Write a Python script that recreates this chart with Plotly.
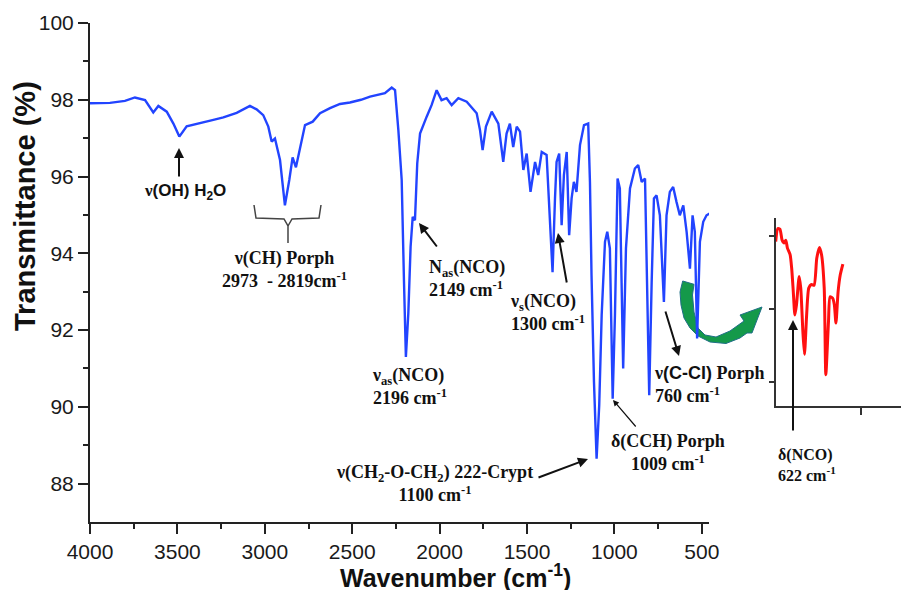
import plotly.graph_objects as go

# ---------------- data ----------------
wavenumber = [4000, 3886, 3800, 3743, 3685, 3638, 3609, 3561, 3523, 3489, 3447, 3390, 3300, 3237,
              3161, 3085, 3047, 3009, 2980, 2961, 2942, 2913, 2885, 2860, 2841, 2822, 2799, 2770,
              2726, 2684, 2627, 2570, 2513, 2450, 2398, 2313, 2274, 2255, 2236, 2217, 2204, 2193,
              2179, 2166, 2154, 2141, 2128, 2112, 2074, 2046, 2017, 1989, 1960, 1931, 1893, 1845,
              1788, 1769, 1754, 1735, 1702, 1664, 1636, 1617, 1598, 1579, 1559, 1540, 1521, 1502,
              1480, 1454, 1436, 1416, 1388, 1369, 1354, 1340, 1331, 1316, 1302, 1289, 1273, 1259,
              1245, 1232, 1217, 1197, 1174, 1150, 1140, 1131, 1117, 1102, 1087, 1073, 1054, 1041,
              1026, 1010, 997, 982, 969, 950, 934, 911, 883, 864, 844, 825, 816, 801, 787, 774,
              759, 740, 717, 702, 683, 664, 645, 626, 606, 587, 568, 553, 540, 527, 511, 492,
              473, 454]
transmittance = [97.91, 97.92, 97.97, 98.06, 97.99, 97.67, 97.84, 97.69, 97.38, 97.04, 97.31, 97.38,
                 97.47, 97.54, 97.66, 97.84, 97.75, 97.60, 97.30, 96.91, 96.99, 96.43, 95.25, 95.91,
                 96.50, 96.24, 96.77, 97.34, 97.43, 97.65, 97.78, 97.89, 97.93, 98.00, 98.08, 98.17,
                 98.32, 98.25, 97.21, 95.91, 93.30, 91.30, 92.44, 94.17, 94.95, 94.86, 96.34, 97.12,
                 97.56, 97.86, 98.25, 97.99, 98.04, 97.86, 98.04, 97.95, 97.65, 97.21, 96.69, 97.30,
                 97.69, 97.38, 96.38, 97.12, 97.38, 96.77, 97.30, 97.17, 96.17, 96.60, 95.60, 96.38,
                 96.04, 96.64, 96.56, 94.99, 93.51, 95.43, 96.38, 96.60, 94.73, 96.04, 96.64, 94.47,
                 95.43, 95.86, 95.60, 96.82, 97.34, 97.38, 95.86, 93.43, 90.65, 88.65, 90.04, 92.39,
                 94.30, 94.56, 94.13, 90.21, 92.39, 95.95, 95.69, 91.00, 94.13, 95.69, 96.21, 96.30,
                 95.86, 95.95, 94.13, 90.30, 93.25, 95.43, 95.51, 94.99, 92.73, 94.99, 95.60, 95.73,
                 95.34, 94.99, 95.25, 94.56, 93.60, 94.99, 94.56, 91.78, 94.30, 94.82, 94.99, 95.04]

inset_wavenumber = [660, 656, 652, 648, 644, 641, 638, 633, 630, 627, 624, 621, 616, 613, 609, 606,
                    602, 598, 593, 588, 583, 578, 574, 569, 566, 561, 558, 553, 550, 547, 543, 539, 534]
inset_transmittance = [94.93, 95.11, 95.10, 94.95, 94.91, 94.95, 94.84, 94.75, 94.56, 94.24, 93.92,
                       94.06, 94.45, 94.29, 93.69, 93.38, 93.92, 94.29, 94.34, 94.33, 94.70, 94.85,
                       94.75, 94.29, 93.10, 93.83, 94.17, 94.15, 94.06, 93.81, 94.24, 94.47, 94.62]

x_tick_values = [4000, 3500, 3000, 2500, 2000, 1500, 1000, 500]
y_tick_values = [88, 90, 92, 94, 96, 98, 100]
inset_x_ticks = [500]
inset_y_ticks = [93, 94, 95]

# ---------------- layout helpers (pixel -> paper) ----------------
W, H = 901, 590
ML, MR, MT, MB = 90, 0, 23, 68


def px(x):
    return (x - ML) / (W - ML - MR)


def py(y):
    return (H - MB - y) / (H - MT - MB)


SERIF = "Liberation Serif"
SANS = "Liberation Sans"
TXT = "#111111"

fig = go.Figure()
fig.add_trace(go.Scatter(x=wavenumber, y=transmittance, mode="lines",
                         line=dict(color="#2244ff", width=2.4), xaxis="x", yaxis="y",
                         showlegend=False, hoverinfo="skip"))
fig.add_trace(go.Scatter(x=inset_wavenumber, y=inset_transmittance, mode="lines",
                         line=dict(color="#ff1010", width=3, shape="spline", smoothing=0.6),
                         xaxis="x2", yaxis="y2", showlegend=False, hoverinfo="skip"))

annotations = []


def label(x, y, text, xanchor="center", size=18, family=SERIF):
    annotations.append(dict(xref="paper", yref="paper", x=px(x), y=py(y), text=text,
                            showarrow=False, xanchor=xanchor, yanchor="middle",
                            align="left" if xanchor == "left" else "center",
                            font=dict(family=family, size=size, color=TXT)))


def arrow(tip, tail, width=2.0, head=2, size=1.0):
    annotations.append(dict(xref="paper", yref="paper", x=px(tip[0]), y=py(tip[1]),
                            ax=tail[0] - tip[0], ay=tail[1] - tip[1], text="",
                            showarrow=True, arrowhead=head, arrowsize=size,
                            arrowwidth=width, arrowcolor="#111111"))


# labels
label(185, 192, "<b>ν</b><b><span style='font-family:Liberation Sans'>(OH) H<sub>2</sub>O</span></b>",
      size=17)
label(284, 269, "<b>ν(CH) Porph<br>2973  - 2819cm<sup>-1</sup></b>")
label(427, 278, "<b>N<sub>as</sub>(NCO)<br>2149 cm<sup>-1</sup></b>", xanchor="left")
label(370, 386, "<b>ν<sub>as</sub>(NCO)<br>2196 cm<sup>-1</sup></b>", xanchor="left")
label(508, 312, "<b>ν<sub>s</sub>(NCO)<br>1300 cm<sup>-1</sup></b>", xanchor="left")
label(434, 483, "<b>ν(CH<sub>2</sub>-O-CH<sub>2</sub>) 222-Crypt<br>1100 cm<sup>-1</sup></b>")
label(668, 452, "<b>δ(CCH) Porph<br>1009 cm<sup>-1</sup></b>")
label(652, 384, "<b>ν<span style='font-family:Liberation Sans'>(C-Cl)</span> Porph<br>760 cm<sup>-1</sup></b>",
      xanchor="left")
label(776, 465, "<b>δ(NCO)<br>622 cm<sup>-1</sup></b>", xanchor="left", size=16)

# arrows
arrow((179, 148), (179, 178))
arrow((419, 223), (438, 248))
arrow((558, 233), (567, 284))
arrow((588, 459), (537, 478))
arrow((613, 400), (637, 428), width=1.2)
arrow((679, 356), (665, 310))
arrow((793, 320), (793, 432))

# axis titles
annotations.append(dict(xref="paper", yref="paper", x=px(455), y=py(576),
                        text="<b>Wavenumber (cm<sup>-1</sup>)</b>", showarrow=False,
                        xanchor="center", yanchor="middle",
                        font=dict(family=SANS, size=25, color=TXT)))
annotations.append(dict(xref="paper", yref="paper", x=px(25), y=py(206),
                        text="<b>Transmittance (%)</b>", showarrow=False, textangle=-90,
                        xanchor="center", yanchor="middle",
                        font=dict(family=SANS, size=29, color=TXT)))


def path_from(points, close=True):
    s = "M " + " L ".join(f"{px(x):.5f},{py(y):.5f}" for x, y in points)
    return s + (" Z" if close else "")


shapes = []
# bracket under the CH region
bracket = [(254, 205), (256, 218), (284, 219), (288, 226), (288, 243)]
bracket2 = [(321, 205), (319, 218), (292, 219), (288, 226)]
shapes.append(dict(type="path", xref="paper", yref="paper", path=path_from(bracket, False),
                   line=dict(color="#444444", width=1.5)))
shapes.append(dict(type="path", xref="paper", yref="paper", path=path_from(bracket2, False),
                   line=dict(color="#444444", width=1.5)))
# green curved arrow
green = [(682.7, 281), (680, 292), (681, 305), (684, 318), (690, 328), (698, 336), (710, 342),
         (726, 343.5), (740, 338), (747, 333), (752, 333), (762, 307), (740, 315), (744, 321),
         (730, 331), (716, 337), (705, 335), (698, 328), (694, 312), (692.5, 295), (694, 284.3)]
shapes.append(dict(type="path", xref="paper", yref="paper", path=path_from(green),
                   fillcolor="#14994a", line=dict(color="#1f6f86", width=1), layer="below"))

axis_font = dict(family=SANS, size=21, color="#1a1a1a")

fig.update_layout(
    width=W, height=H, autosize=False,
    margin=dict(l=ML, r=MR, t=MT, b=MB, pad=0, autoexpand=False),
    paper_bgcolor="white", plot_bgcolor="rgba(0,0,0,0)",
    showlegend=False,
    xaxis=dict(domain=[0, px(709)], range=[4000, 459], tickvals=x_tick_values,
               ticks="outside", ticklen=10, tickwidth=2, tickcolor="#222", automargin=False,
               showline=True, linewidth=2, linecolor="#222", showgrid=False, zeroline=False,
               tickfont=axis_font,
               minor=dict(tickvals=[3750, 3250, 2750, 2250, 1750, 1250, 750], ticks="outside",
                          ticklen=5, tickwidth=2, tickcolor="#222")),
    yaxis=dict(domain=[0, 1], range=[87, 100], tickvals=y_tick_values, automargin=False,
               ticks="outside", ticklen=10, tickwidth=2, tickcolor="#222",
               showline=True, linewidth=2, linecolor="#222", showgrid=False, zeroline=False,
               tickfont=axis_font,
               minor=dict(tickvals=[89, 91, 93, 95, 97, 99], ticks="outside",
                          ticklen=5, tickwidth=2, tickcolor="#222")),
    xaxis2=dict(domain=[px(775.7), 1.0], range=[660, 425], anchor="y2", tickvals=inset_x_ticks,
                ticks="outside", ticklen=7, tickwidth=1.5, tickcolor="#333", automargin=False,
                showticklabels=False, showline=True, linewidth=1.5, linecolor="#333",
                showgrid=False, zeroline=False),
    yaxis2=dict(domain=[py(406), py(218.3)], range=[92.67, 95.25], anchor="x2",
                tickvals=inset_y_ticks, ticks="outside", ticklen=5, tickwidth=1.5,
                tickcolor="#333", showticklabels=False, showline=True, linewidth=1.5,
                linecolor="#333", showgrid=False, zeroline=False, automargin=False),
    annotations=annotations,
    shapes=shapes,
)

fig.write_html("out.html", config={"displayModeBar": False, "responsive": False},
               post_script="document.body.style.margin='0';document.body.style.overflow='hidden';")
